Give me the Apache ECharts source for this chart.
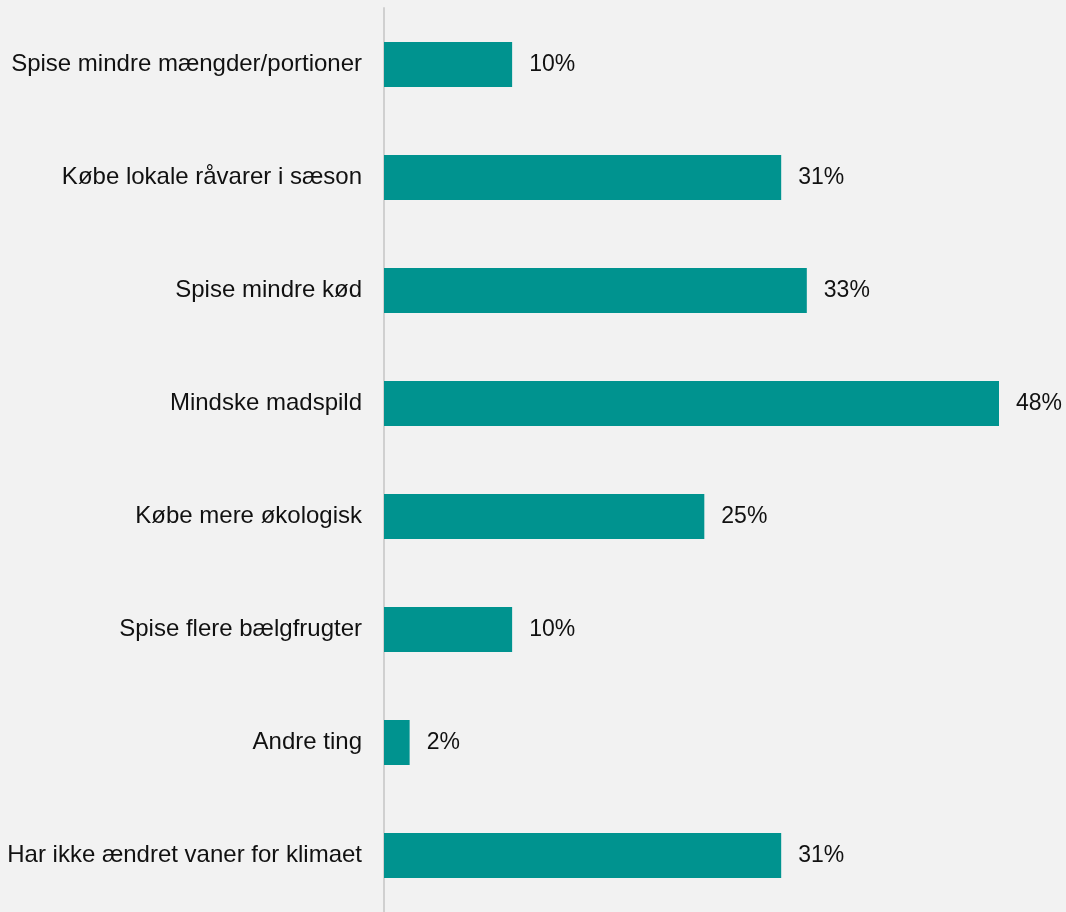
<!DOCTYPE html>
<html>
<head>
<meta charset="utf-8">
<script src="https://cdn.jsdelivr.net/npm/echarts@6/dist/echarts.min.js"></script>
<style>
  html, body { margin: 0; padding: 0; background: #f2f2f2; }
  #chart { width: 1066px; height: 912px; }
</style>
</head>
<body>
<div id="chart"></div>
<script>
// Ændrede madvaner for klimaets skyld (andel i procent)
const categories = [
  'Spise mindre mængder/portioner',
  'Købe lokale råvarer i sæson',
  'Spise mindre kød',
  'Mindske madspild',
  'Købe mere økologisk',
  'Spise flere bælgfrugter',
  'Andre ting',
  'Har ikke ændret vaner for klimaet'
];
const shares = [10, 31, 33, 48, 25, 10, 2, 31];

const chart = echarts.init(document.getElementById('chart'), null, { renderer: 'canvas' });
chart.setOption({
  backgroundColor: '#f2f2f2',
  animation: false,
  grid: { left: 384, top: 8, height: 908, right: 67, containLabel: false },
  xAxis: {
    type: 'value',
    min: 0,
    max: 48,
    show: false
  },
  yAxis: {
    type: 'category',
    data: categories,
    inverse: true,
    axisLine: { show: true, lineStyle: { color: '#d0d0d0', width: 2 } },
    axisTick: { show: false },
    axisLabel: {
      margin: 22,
      color: '#111111',
      fontFamily: 'Liberation Sans, Arial, sans-serif',
      fontSize: 24
    }
  },
  series: [{
    type: 'bar',
    data: shares,
    barWidth: 45,
    itemStyle: { color: '#00938f' },
    label: {
      show: true,
      position: 'right',
      distance: 17,
      formatter: p => p.value + '%',
      color: '#111111',
      fontFamily: 'Liberation Sans, Arial, sans-serif',
      fontSize: 23
    }
  }]
});
</script>
</body>
</html>
